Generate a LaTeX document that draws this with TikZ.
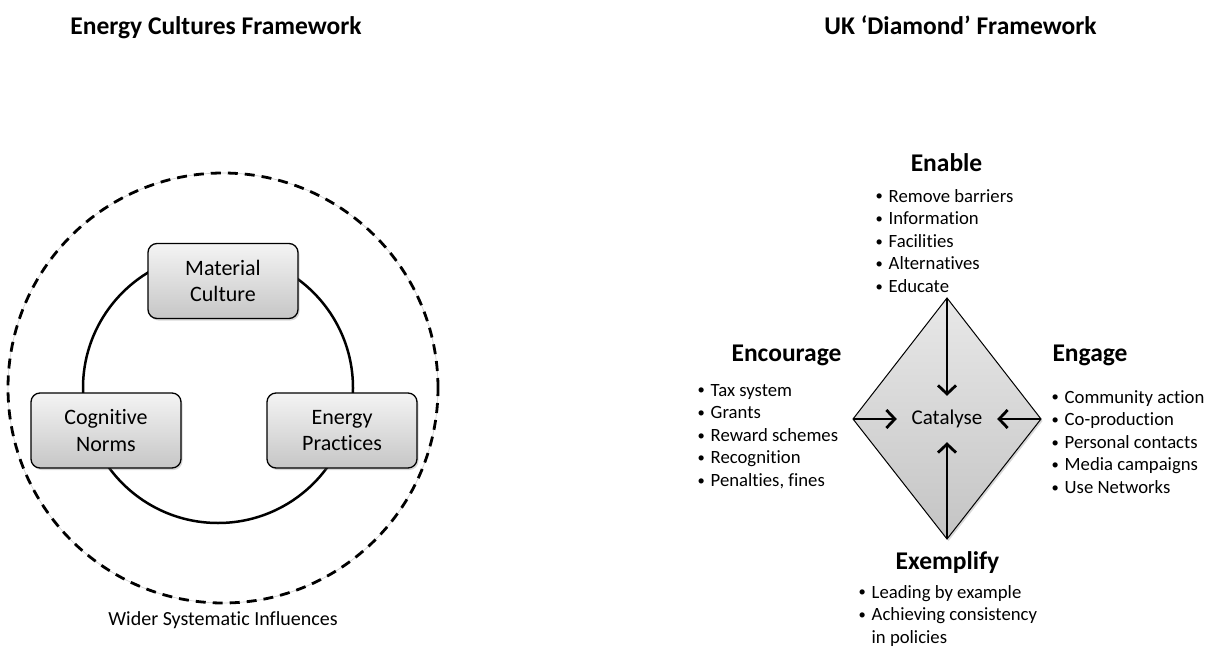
\documentclass[tikz,border=0pt]{standalone}
\usepackage{fontspec}
\setmainfont{Carlito}[Ligatures={NoCommon}, RawFeature={-liga;-clig}]
\usetikzlibrary{arrows.meta,shadows}
\definecolor{boxtop}{HTML}{F4F4F4}
\definecolor{boxbot}{HTML}{C6C6C6}
\definecolor{diatop}{HTML}{E8E8E8}
\definecolor{diabot}{HTML}{C4C4C4}
\definecolor{faint}{HTML}{CFCFCF}
\newcommand{\blist}[1]{\begin{tabular}[t]{@{}l@{\hspace{7pt}}l@{}}#1\end{tabular}}
\newcommand{\bul}{\makebox[5pt][c]{\raisebox{1.2pt}{\scalebox{0.78}{\textbullet}}}}
\begin{document}
\begin{tikzpicture}[x=1pt,y=-1pt,
  title/.style={font=\fontsize{25.5}{30}\selectfont\bfseries, inner sep=0, anchor=base},
  hdr/.style={font=\fontsize{25.5}{30}\selectfont\bfseries, inner sep=0},
  lst/.style={font=\fontsize{18.7}{22.6}\selectfont, inner sep=0, anchor=base west},
  cbox/.style={draw, line width=1.3pt, rounded corners=9pt, minimum width=150pt, minimum height=75pt,
    top color=boxtop, bottom color=boxbot, align=center, font=\fontsize{22}{26.7}\selectfont,
    drop shadow={opacity=0.3, shadow xshift=1.5pt, shadow yshift=-2pt}},
  arr/.style={line width=2.8pt, -{Straight Barb[length=8.5pt,width=18pt]}},
]
\useasboundingbox (0,0) rectangle (1220,647);
\fill[white] (0,0) rectangle (1220,647);

% titles
\node[title] (t1) at (216,35) {Energy Cultures Framework};
\node[title] (t2) at (960.5,35) {UK ‘Diamond’ Framework};

% left: energy cultures
\node[circle, draw=faint, line width=0.6pt, minimum size=430pt, inner sep=0] (outerf) at (223,388) {};
\node[circle, draw, dash pattern=on 10pt off 7pt, line width=2.8pt, minimum size=430pt, inner sep=0] (outer) at (223,388) {};
\node[circle, draw, line width=2.5pt, minimum size=270pt, inner sep=0] (ring) at (218,388) {};
\node[cbox] (mat) at (223,281) {Material\\Culture};
\node[cbox] (cog) at (106,430.5) {Cognitive\\Norms};
\node[cbox] (ene) at (342,430.5) {Energy\\Practices};
\node[font=\fontsize{20}{24}\selectfont, inner sep=0] (wider) at (223,620) {Wider Systematic Influences};

% right: diamond
\coordinate (dT) at (947,298);
\coordinate (dB) at (947,539);
\coordinate (dL) at (853,419);
\coordinate (dR) at (1041,419);
\path[draw, line width=1pt, top color=diatop, bottom color=diabot,
  drop shadow={opacity=0.3, shadow xshift=1.5pt, shadow yshift=-2pt}]
  (dT) -- (dR) -- (dB) -- (dL) -- cycle;
\node[minimum width=100pt, minimum height=46pt, inner sep=0, font=\fontsize{21}{25}\selectfont] (cat) at (947,419) {Catalyse};
\draw[arr] (dT) -- (cat);
\draw[arr] (dB) -- (cat);
\draw[arr] (dL) -- (cat);
\draw[arr] (dR) -- (cat);

\node[hdr] (enable) at (946.5,163) {Enable};
\node[lst] (enl) at (876.5,202) {\blist{%
  \bul & Remove barriers\\
  \bul & Information\\
  \bul & Facilities\\
  \bul & Alternatives\\
  \bul & Educate}};

\node[hdr] (encourage) at (786.5,355) {Encourage};
\node[lst] (ecl) at (698.5,396) {\blist{%
  \bul & Tax system\\
  \bul & Grants\\
  \bul & Reward schemes\\
  \bul & Recognition\\
  \bul & Penalties, fines}};

\node[hdr] (engage) at (1090,355) {Engage};
\node[lst] (egl) at (1052.5,403) {\blist{%
  \bul & Community action\\
  \bul & Co-production\\
  \bul & Personal contacts\\
  \bul & Media campaigns\\
  \bul & Use Networks}};

\node[hdr] (exemplify) at (947.5,563) {Exemplify};
\node[lst] (exl) at (859.5,598) {\blist{%
  \bul & Leading by example\\
  \bul & Achieving consistency\\
   & in policies}};
\end{tikzpicture}
\end{document}
